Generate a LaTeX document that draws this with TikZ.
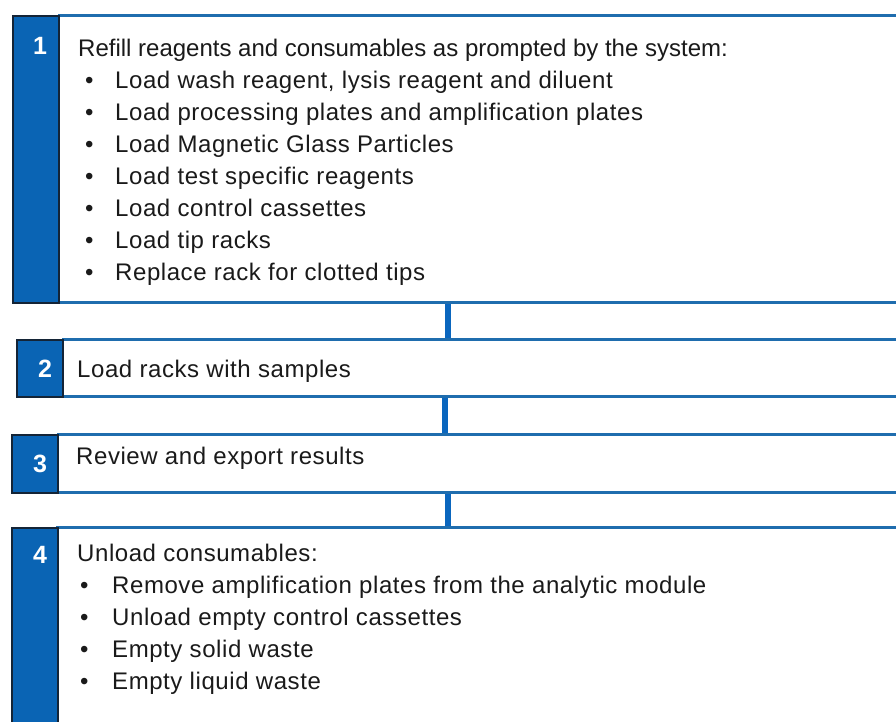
\documentclass[tikz,border=0pt]{standalone}
\usepackage{fontspec}
\setmainfont{Liberation Sans}
\newfontfamily\widefont[LetterSpace=2.4]{Liberation Sans}
\definecolor{tabblue}{HTML}{0A64B4}
\definecolor{tabedge}{HTML}{142436}
\definecolor{lineblue}{HTML}{1F6DAE}
\definecolor{connblue}{HTML}{0A66BE}
\definecolor{txtgray}{HTML}{1A1A1A}
\begin{document}
\begin{tikzpicture}[x=1pt,y=-1pt,
  tab/.style={draw=tabedge, line width=2pt, fill=tabblue, inner sep=0pt, anchor=north west, minimum width=46pt},
  box/.style={draw=none, inner sep=0pt, anchor=north west},
  hline/.style={draw=lineblue, line width=3pt},
  conn/.style={draw=connblue, line width=6pt},
  num/.style={text=white, anchor=base, inner sep=0pt, font=\bfseries\fontsize{25}{25}\selectfont},
  txt/.style={anchor=base west, inner sep=0pt, text=txtgray, font=\fontsize{24}{28}\selectfont},
  wtxt/.style={anchor=base west, inner sep=0pt, text=txtgray, font=\widefont\fontsize{24}{28}\selectfont}]
\fill[white] (0,0) rectangle (896,721);
\useasboundingbox (0,0) rectangle (896,721);

% box content areas
\node[box, minimum width=838pt, minimum height=287pt] (b1) at (58,15) {};
\node[box, minimum width=834pt, minimum height=57pt] (b2) at (62,339) {};
\node[box, minimum width=839pt, minimum height=58pt] (b3) at (57,434) {};
\node[box, minimum width=840pt, minimum height=210pt] (b4) at (56,527) {};

% connectors
\coordinate (c1) at (448,0);
\coordinate (c2) at (445,0);
\coordinate (c3) at (448,0);
\draw[conn] (b1.south -| c1) -- (b2.north -| c1);
\draw[conn] (b2.south -| c2) -- (b3.north -| c2);
\draw[conn] (b3.south -| c3) -- (b4.north -| c3);

% box lines
\draw[hline] (b1.north west) -- (b1.north east);
\draw[hline] (b1.south west) -- (b1.south east);
\draw[hline] (b2.north west) -- (b2.north east);
\draw[hline] (b2.south west) -- (b2.south east);
\draw[hline] (b3.north west) -- (b3.north east);
\draw[hline] (b3.south west) -- (b3.south east);
\draw[hline] (b4.north west) -- (b4.north east);

% tabs
\node[tab, minimum height=287pt] (t1) at (12,15) {};
\node[tab, minimum height=57pt] (t2) at (16,339) {};
\node[tab, minimum height=58pt] (t3) at (11,434) {};
\node[tab, minimum height=210pt] (t4) at (11,527) {};

\node[num] (n1) at (40,54) {1};
\node[num] (n2) at (45,377) {2};
\node[num] (n3) at (40,472) {3};
\node[num] (n4) at (40,563) {4};

% box 1 text
\node[txt] (a0) at (78,56) {Refill reagents and consumables as prompted by the system:};
\node[txt] (p1) at (85,88) {•};  \node[wtxt] (a1) at (115,88) {Load wash reagent, lysis reagent and diluent};
\node[txt] (p2) at (85,120) {•}; \node[wtxt] (a2) at (115,120) {Load processing plates and amplification plates};
\node[txt] (p3) at (85,152) {•}; \node[wtxt] (a3) at (115,152) {Load Magnetic Glass Particles};
\node[txt] (p4) at (85,184) {•}; \node[wtxt] (a4) at (115,184) {Load test specific reagents};
\node[txt] (p5) at (85,216) {•}; \node[wtxt] (a5) at (115,216) {Load control cassettes};
\node[txt] (p6) at (85,248) {•}; \node[wtxt] (a6) at (115,248) {Load tip racks};
\node[txt] (p7) at (85,280) {•}; \node[wtxt] (a7) at (115,280) {Replace rack for clotted tips};

% box 2 and 3 text
\node[wtxt] (x2) at (77,377) {Load racks with samples};
\node[wtxt] (x3) at (76,464) {Review and export results};

% box 4 text
\node[wtxt] (d0) at (77,561) {Unload consumables:};
\node[txt] (q1) at (80,593) {•}; \node[wtxt] (d1) at (112,593) {Remove amplification plates from the analytic module};
\node[txt] (q2) at (80,625) {•}; \node[wtxt] (d2) at (112,625) {Unload empty control cassettes};
\node[txt] (q3) at (80,657) {•}; \node[wtxt] (d3) at (112,657) {Empty solid waste};
\node[txt] (q4) at (80,689) {•}; \node[wtxt] (d4) at (112,689) {Empty liquid waste};
\end{tikzpicture}
\end{document}
